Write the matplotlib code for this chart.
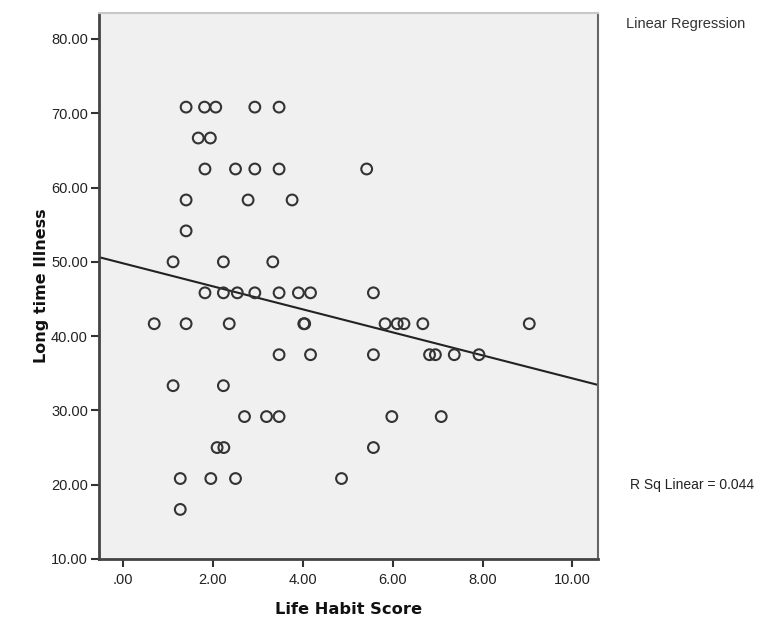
import numpy as np
from matplotlib import pyplot as plt

plt.rcParams['font.family'] = ['Liberation Sans', 'DejaVu Sans']

# life habit score vs long time illness
habit = [1.40, 1.81, 2.06, 2.93, 3.47,
         1.67, 1.94,
         1.82, 2.50, 2.93, 3.47, 5.42,
         1.40, 2.78, 3.76,
         1.40,
         1.11, 2.23, 3.33,
         1.82, 2.23, 2.54, 2.93, 3.47, 3.90, 4.17, 5.57,
         0.69, 1.40, 2.36, 4.02, 4.04, 5.83, 6.10, 6.25, 6.67, 9.04,
         3.47, 4.17, 5.57, 6.82, 6.95, 7.37, 7.92,
         1.11, 2.23,
         2.70, 3.19, 3.47, 5.98, 7.08,
         2.09, 2.24, 5.57,
         1.27, 1.95, 2.50, 4.86,
         1.27]
illness = [70.83] * 5 + [66.67] * 2 + [62.50] * 5 + [58.33] * 3 + [54.17] + \
          [50.00] * 3 + [45.83] * 8 + [41.67] * 10 + [37.50] * 7 + \
          [33.33] * 2 + [29.17] * 5 + [25.00] * 3 + [20.83] * 4 + [16.67]

xticks = [0, 2, 4, 6, 8, 10]
xtick_labels = ['.00', '2.00', '4.00', '6.00', '8.00', '10.00']
yticks = [10, 20, 30, 40, 50, 60, 70, 80]
ytick_labels = ['10.00', '20.00', '30.00', '40.00', '50.00', '60.00', '70.00', '80.00']
r_sq = 0.044

fig = plt.figure(figsize=(7.75, 6.28), dpi=100)
ax = fig.add_axes([0.1277, 0.1099, 0.6439, 0.8694])
ax.set_facecolor('#f0f0f0')

ax.scatter(habit, illness, s=60, facecolors='none', edgecolors='#333333',
           linewidths=1.5, zorder=3)

xlim = (-0.54, 10.57)
slope, intercept = np.polyfit(habit, illness, 1)
xs = np.array(xlim)
ax.plot(xs, slope * xs + intercept, color='#222222', lw=1.5, zorder=2)

ax.set_xlim(*xlim)
ax.set_ylim(10, 83.5)
ax.set_xticks(xticks, xtick_labels)
ax.set_yticks(yticks, ytick_labels)
ax.tick_params(axis='both', labelsize=10.5, colors='#333333', length=6,
               width=1.5, direction='out', pad=2)
ax.tick_params(axis='x', pad=4)
ax.tick_params(axis='both', labelcolor='#222222')

for side in ['left', 'bottom']:
    ax.spines[side].set_color('#444444')
    ax.spines[side].set_linewidth(2)
ax.spines['top'].set_color('#c8c8c8')
ax.spines['top'].set_linewidth(1.5)
ax.spines['right'].set_color('#666666')
ax.spines['right'].set_linewidth(1.5)

ax.set_xlabel('Life Habit Score', fontsize=11.7, fontweight='bold',
              family='DejaVu Sans', color='#111111', labelpad=11)
ax.set_ylabel('Long time Illness', fontsize=11.5, fontweight='bold',
              family='DejaVu Sans', color='#111111', labelpad=1.5)

fig.text(0.808, 0.955, 'Linear Regression', fontsize=10.5, color='#333333')
fig.text(0.813, 0.222, f'R Sq Linear = {r_sq:.3f}', fontsize=10, color='#222222')

fig.savefig('out.png', dpi=100)
